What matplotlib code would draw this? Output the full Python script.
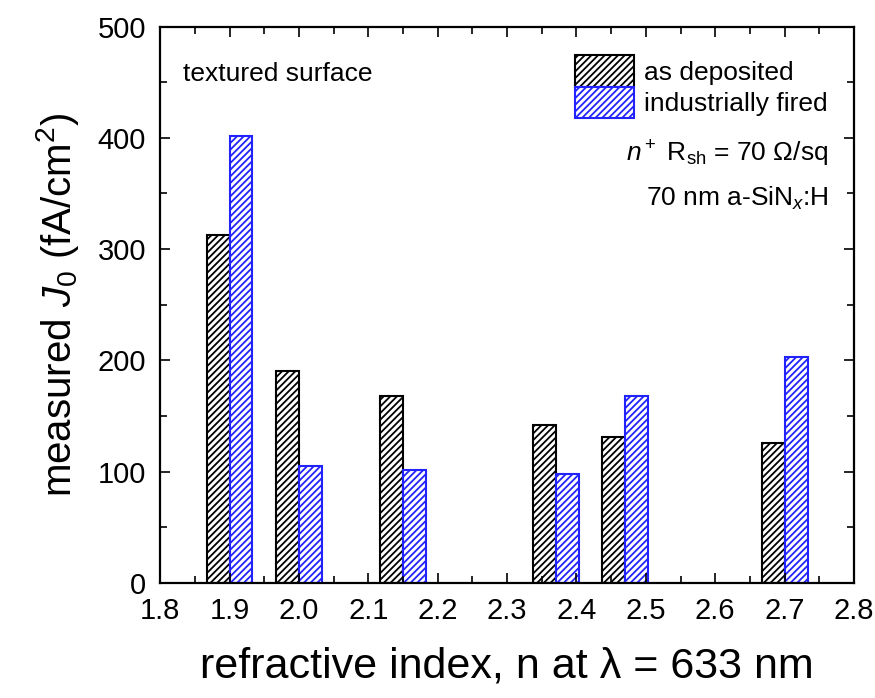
import matplotlib
matplotlib.use("Agg")
import matplotlib.pyplot as plt
import numpy as np
from matplotlib.ticker import MultipleLocator, FormatStrFormatter

plt.rcParams['font.family'] = ['Liberation Sans', 'DejaVu Sans']
plt.rcParams['mathtext.fontset'] = 'custom'
plt.rcParams['mathtext.rm'] = 'Liberation Sans'
plt.rcParams['mathtext.it'] = 'Liberation Sans:italic'
plt.rcParams['hatch.linewidth'] = 1.3

# refractive index of each a-SiNx:H film and measured J0 values
n_index = np.array([1.90, 2.00, 2.15, 2.37, 2.47, 2.70])
j0_as_deposited = np.array([313, 190, 168, 142, 131, 126])
j0_fired = np.array([402, 105, 101, 98, 168, 203])

bar_w = 0.033
black = '#000000'
blue = '#2222ff'

fig = plt.figure(figsize=(8.75, 6.98), dpi=100)
ax = fig.add_axes([0.183, 0.165, 0.793, 0.797])

# black bar ends at n, blue bar starts at n
ax.bar(n_index, j0_as_deposited, width=-bar_w, align='edge', facecolor='white',
       edgecolor=black, hatch='/////', linewidth=1.5, label='as deposited')
ax.bar(n_index, j0_fired, width=bar_w, align='edge', facecolor='white',
       edgecolor=blue, hatch='/////', linewidth=1.5, label='industrially fired')

ax.set_xlim(1.8, 2.8)
ax.set_ylim(0, 500)
ax.xaxis.set_major_locator(MultipleLocator(0.1))
ax.xaxis.set_minor_locator(MultipleLocator(0.05))
ax.xaxis.set_major_formatter(FormatStrFormatter('%.1f'))
ax.yaxis.set_major_locator(MultipleLocator(100))
ax.yaxis.set_minor_locator(MultipleLocator(50))
ax.tick_params(which='both', direction='in', top=True, right=True, width=1.2)
ax.tick_params(which='major', length=7.5, labelsize=21, pad=10)
ax.tick_params(which='minor', length=5)
for s in ax.spines.values():
    s.set_linewidth(1.6)

ax.set_xlabel('refractive index, n at λ = 633 nm', fontsize=31, labelpad=16)
ax.set_ylabel(r'measured $J_0$ (fA/cm$^2$)', fontsize=29, labelpad=12)

ax.text(0.033, 0.902, 'textured surface', transform=ax.transAxes,
        fontsize=19, va='baseline', ha='left')
ax.text(0.9625, 0.758, r'$n^+$ R$_{\rm sh}$ = 70 Ω/sq', transform=ax.transAxes,
        fontsize=19, va='baseline', ha='right')
ax.text(0.9625, 0.677, r'70 nm a-SiN$_x$:H', transform=ax.transAxes,
        fontsize=19, va='baseline', ha='right')

ax.legend(loc='upper left', bbox_to_anchor=(0.598, 0.948), frameon=False,
          fontsize=19, handlelength=2.25, handleheight=1.45, labelspacing=0.0,
          handletextpad=0.35, borderpad=0, borderaxespad=0)

fig.savefig('out.png', dpi=100)
